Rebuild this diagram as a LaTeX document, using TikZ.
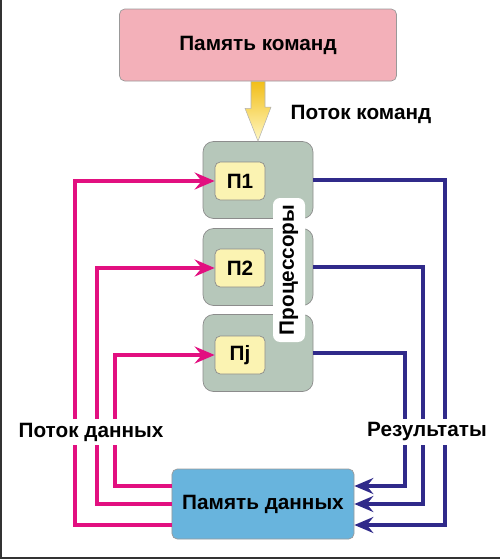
\documentclass[tikz,border=0pt]{standalone}
\usepackage{fontspec}
\setmainfont{Liberation Sans}
\usetikzlibrary{arrows.meta}

\definecolor{cmdpink}{RGB}{243,176,185}
\definecolor{cpugray}{RGB}{182,199,186}
\definecolor{pyellow}{RGB}{251,243,178}
\definecolor{datblue}{RGB}{104,180,221}
\definecolor{datapink}{RGB}{226,16,128}
\definecolor{resblue}{RGB}{48,42,138}
\definecolor{flowtop}{RGB}{242,190,24}
\definecolor{flowbot}{RGB}{255,248,196}

\tikzset{
  cmdbox/.style={draw=black!40, fill=cmdpink, rounded corners=3pt,
    minimum width=55.4mm, minimum height=14.4mm},
  cpubox/.style={draw=black!45, fill=cpugray, rounded corners=6pt,
    minimum width=22mm, minimum height=15.4mm},
  pbox/.style={draw=black!45, fill=pyellow, rounded corners=3pt,
    minimum width=10mm, minimum height=7.6mm},
  datbox/.style={draw=black!40, fill=datblue, rounded corners=3pt,
    minimum width=36.4mm, minimum height=14mm},
  cpulabel/.style={fill=white, rounded corners=4pt,
    minimum width=28.8mm, minimum height=6.4mm, inner sep=0pt},
  flowlabel/.style={fill=white, inner sep=2pt},
  dataflow/.style={draw=datapink, line width=0.8mm,
    -{Stealth[length=4mm,width=3.4mm,inset=1.4mm]}},
  resflow/.style={draw=resblue, line width=0.8mm,
    -{Stealth[length=3.8mm,width=3.2mm,inset=1.3mm]}}
}

\begin{document}
\begin{tikzpicture}[x=0.2mm, y=-0.2mm, font=\bfseries\fontsize{11.8}{14}\selectfont]
  \useasboundingbox (0,0) rectangle (500,559);
  % frame on the left and at the bottom
  \draw[black!80, line width=0.4mm] (1,0) -- (1,558) -- (500,558);

  % memories and processors
  \node[cmdbox] (cmdmem) at (258,45) {Память команд};
  \node[cpubox] (pb1) at (258,180) {};
  \node[cpubox] (pb2) at (258,267) {};
  \node[cpubox] (pbj) at (258,353) {};
  \node[pbox] (p1) at (240,181) {П1};
  \node[pbox] (p2) at (240,268) {П2};
  \node[pbox] (pj) at (240,355) {Пj};
  \node[cpulabel, rotate=90] (cpus) at (289,270) {Процессоры};
  \node[datbox] (datmem) at (263,504) {Память данных};

  % instruction stream
  \shade[top color=flowtop, bottom color=flowbot, draw=black!30, line width=0.3pt]
    ([xshift=-1.4mm]cmdmem.south) -- ++(0,27) -- ++(-6,0) -- (pb1.north)
    -- ++(13,-34) -- ++(-6,0) -- ([xshift=1.4mm]cmdmem.south) -- cycle;
  \node (cmdflow) at (361,114) {Поток команд};

  % data to the processors
  \draw[dataflow] ([yshift=-4.2mm]datmem.west) -- ++(-97,0) |- (p1.west);
  \draw[dataflow] (datmem.west) -- ++(-75,0) |- (p2.west);
  \draw[dataflow] ([yshift=3.6mm]datmem.west) -- ++(-57,0) |- (pj.west);

  % results back to memory
  \draw[resflow] (pb1.east) -- ++(132,0) |- ([yshift=-4.2mm]datmem.east);
  \draw[resflow] (pb2.east) -- ++(110,0) |- (datmem.east);
  \draw[resflow] (pbj.east) -- ++(92,0) |- ([yshift=3.6mm]datmem.east);

  \node[flowlabel] (dataflowlbl) at (91,432) {Поток данных};
  \node[flowlabel] (reslbl) at (427,432) {Результаты};
\end{tikzpicture}
\end{document}
